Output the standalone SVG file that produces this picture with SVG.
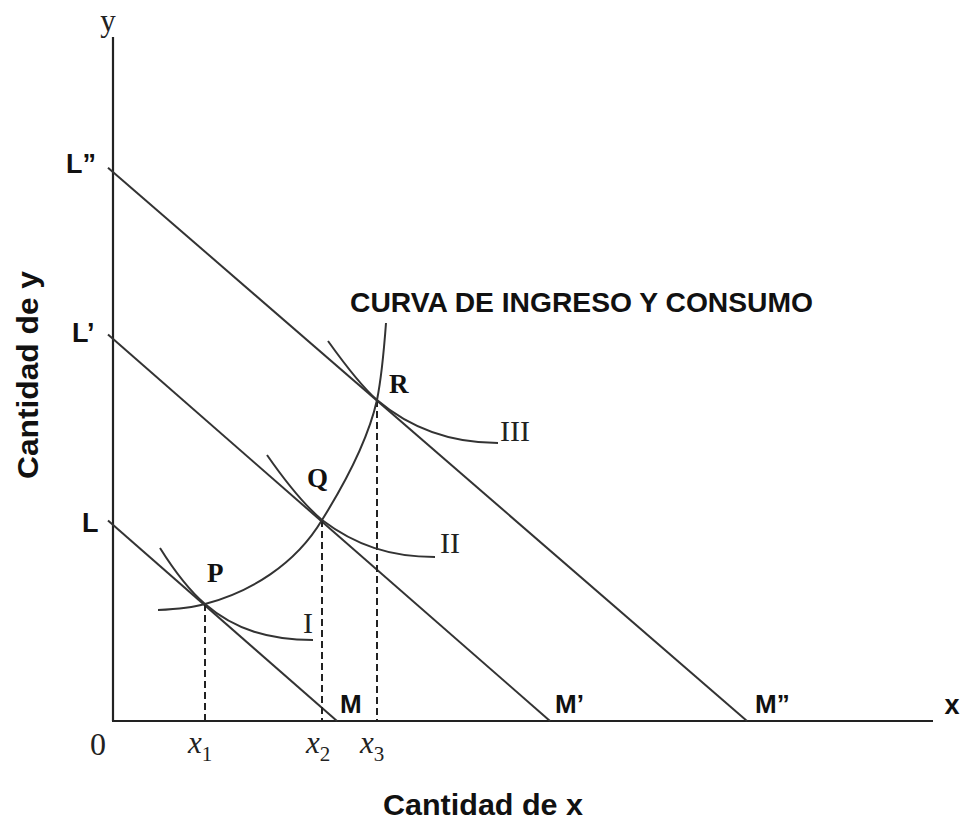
<svg xmlns="http://www.w3.org/2000/svg" width="966" height="822" viewBox="0 0 966 822">
<style>
.ax{stroke:#222;stroke-width:2.2;fill:none}
.ln{stroke:#333;stroke-width:2;fill:none}
.cv{stroke:#333;stroke-width:2;fill:none}
.dash{stroke:#222;stroke-width:2;stroke-dasharray:7 4;fill:none}
.sb{font-family:"Liberation Sans",Arial,sans-serif;font-weight:bold;fill:#111}
.sr{font-family:"Liberation Serif","Times New Roman",serif;fill:#222}
.srb{font-family:"Liberation Serif","Times New Roman",serif;font-weight:bold;fill:#111}
</style>
<rect width="966" height="822" fill="#fff"/>
<g id="axes">
<line class="ax" x1="113" y1="37" x2="113" y2="721"/>
<line class="ax" x1="112" y1="721" x2="933" y2="721"/>
<text class="sr" x="108" y="31" font-size="31" text-anchor="middle">y</text>
<text class="sr" x="98" y="755" font-size="32" text-anchor="middle">0</text>
<text class="sb" x="952" y="714" font-size="27" text-anchor="middle">x</text>
<text class="sb" x="483" y="815" font-size="29" text-anchor="middle" textLength="200" lengthAdjust="spacingAndGlyphs">Cantidad de x</text>
<text class="sb" transform="translate(38,375) rotate(-90)" x="0" y="0" font-size="29" text-anchor="middle" textLength="208" lengthAdjust="spacingAndGlyphs">Cantidad de y</text>
</g>
<g id="connectors">
<line class="ln" x1="108" y1="520.6" x2="337" y2="721"/>
<line class="ln" x1="108" y1="334.6" x2="550" y2="721"/>
<line class="ln" x1="108" y1="167.7" x2="747" y2="721"/>
<line class="dash" x1="205" y1="604" x2="205" y2="720"/>
<line class="dash" x1="322" y1="520" x2="322" y2="720"/>
<line class="dash" x1="377" y1="400" x2="377" y2="720"/>
<path class="cv" d="M158,610 C180,609 195,607 205,604 C250,592 295,565 322,520 C347,480 368,440 377,400 C382,375 384,350 386,323"/>
<path class="cv" d="M160,548 C175,572 190,591 205,604 C235,630 270,640 313,640"/>
<path class="cv" d="M267,455 C283,478 302,503 322,520 C355,545 390,557 435,557"/>
<path class="cv" d="M328,341 C343,362 360,385 377,400 C410,428 450,443 498,443"/>
</g>
<g id="L2"><text class="sb" x="66" y="173" font-size="27">L”</text></g>
<g id="L1"><text class="sb" x="72" y="342" font-size="27">L’</text></g>
<g id="L0"><text class="sb" x="82" y="532" font-size="27">L</text></g>
<g id="M0"><text class="sb" x="340" y="713" font-size="26">M</text></g>
<g id="M1"><text class="sb" x="555" y="713" font-size="26">M’</text></g>
<g id="M2"><text class="sb" x="755" y="713" font-size="26">M”</text></g>
<g id="P"><text class="srb" x="207" y="582" font-size="27">P</text></g>
<g id="Q"><text class="srb" x="307" y="487" font-size="27">Q</text></g>
<g id="R"><text class="srb" x="389" y="393" font-size="27">R</text></g>
<g id="I"><text class="sr" x="303" y="633" font-size="30">I</text></g>
<g id="II"><text class="sr" x="440" y="553" font-size="30">II</text></g>
<g id="III"><text class="sr" x="500" y="441" font-size="30">III</text></g>
<g id="x1"><text class="sr" x="188" y="753" font-size="31" font-style="italic">x<tspan font-size="21" font-style="normal" dy="8">1</tspan></text></g>
<g id="x2"><text class="sr" x="306" y="753" font-size="31" font-style="italic">x<tspan font-size="21" font-style="normal" dy="8">2</tspan></text></g>
<g id="x3"><text class="sr" x="360" y="753" font-size="31" font-style="italic">x<tspan font-size="21" font-style="normal" dy="8">3</tspan></text></g>
<g id="icc-label"><text class="sb" x="350" y="312" font-size="28" textLength="463" lengthAdjust="spacingAndGlyphs">CURVA DE INGRESO Y CONSUMO</text></g>
</svg>
